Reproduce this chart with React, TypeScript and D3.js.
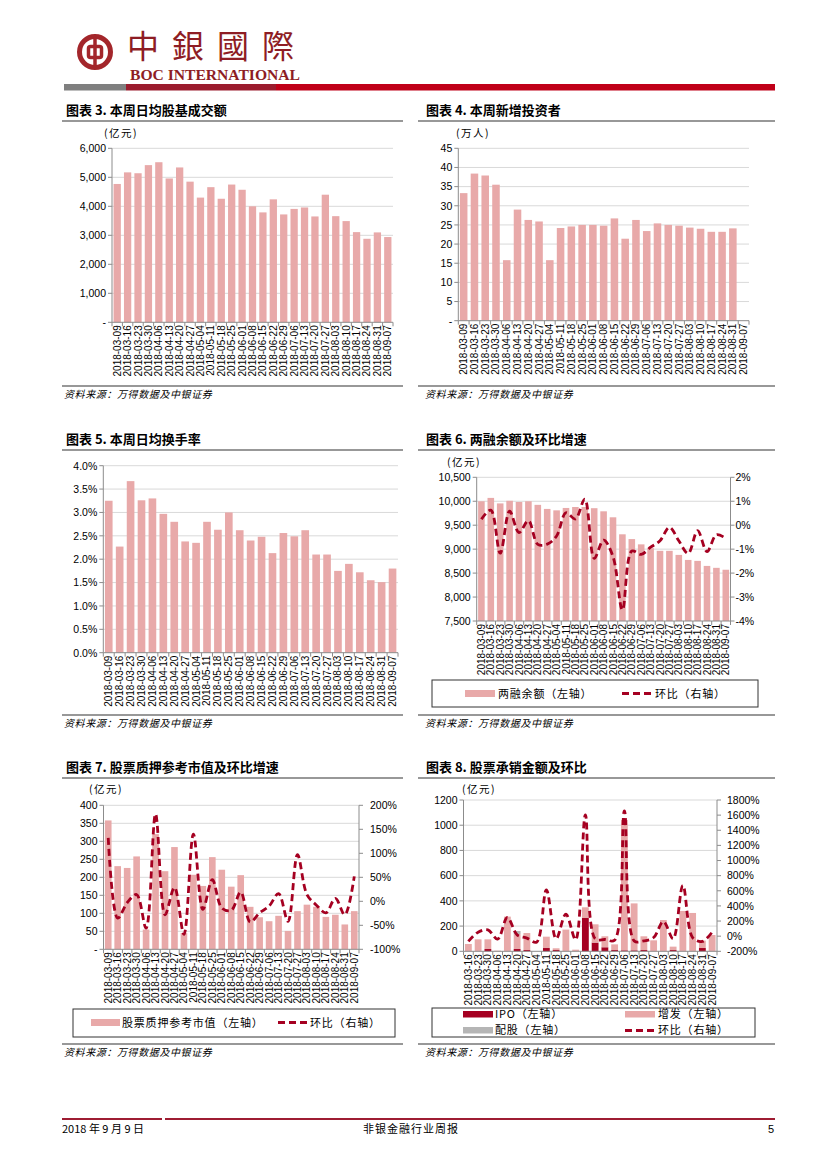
import * as d3 from 'd3';

// weekly dates (chart 3-7), chart 8 starts one week later
const weeks = [
  '2018-03-09', '2018-03-16', '2018-03-23', '2018-03-30', '2018-04-06', '2018-04-13', '2018-04-20',
  '2018-04-27', '2018-05-04', '2018-05-11', '2018-05-18', '2018-05-25', '2018-06-01', '2018-06-08',
  '2018-06-15', '2018-06-22', '2018-06-29', '2018-07-06', '2018-07-13', '2018-07-20', '2018-07-27',
  '2018-08-03', '2018-08-10', '2018-08-17', '2018-08-24', '2018-08-31', '2018-09-07',
];
const weeksFrom316 = weeks.slice(1);

// 图表3 本周日均股基成交额 (亿元)
const dailyTurnover = [4770, 5170, 5140, 5420, 5520, 4960, 5340, 4850, 4300, 4660, 4260, 4750, 4570, 4000,
  3790, 4240, 3720, 3910, 3960, 3650, 4400, 3660, 3490, 3110, 2880, 3100, 2940];

// 图表4 本周新增投资者 (万人)
const newInvestors = [33.3, 38.4, 37.9, 35.5, 15.8, 29.0, 26.3, 25.9, 15.8, 24.2, 24.6, 25.0, 25.0, 24.8,
  26.7, 21.4, 26.3, 23.4, 25.4, 25.0, 24.8, 24.3, 24.0, 23.2, 23.2, 24.1, null];

// 图表5 本周日均换手率 (%)
const turnoverRate = [3.25, 2.27, 3.67, 3.26, 3.30, 2.97, 2.80, 2.38, 2.35, 2.80, 2.63, 3.00, 2.62, 2.40,
  2.48, 2.13, 2.56, 2.49, 2.62, 2.10, 2.10, 1.75, 1.90, 1.72, 1.55, 1.51, 1.80];

// 图表6 两融余额 (亿元) 及环比 (%)
const marginBalance = [10000, 10070, 9955, 10010, 9985, 10000, 9925, 9840, 9810, 9860, 9880, 9880, 9855, 9790,
  9665, 9310, 9210, 9100, 9020, 8965, 8965, 8880, 8775, 8755, 8650, 8610, 8570];
const marginChange = [0.25, 0.63, -1.17, 0.59, -0.31, 0.19, -0.80, -0.79, -0.45, 0.52, 0.26, 1.09, -1.38, -0.62,
  -1.31, -3.54, -1.08, -1.22, -0.92, -0.65, -0.09, -0.65, -1.18, -0.23, -1.10, -0.40, -0.55];

// 图表7 股票质押参考市值 (亿元) 及环比 (%)
const pledgeValue = [358, 231, 226, 258, 55, 320, 217, 284, 45, 207, 176, 256, 221, 174,
  206, 118, 89, 78, 93, 51, 106, 124, 118, 90, 96, 69, 106];
const pledgeChange = [132, -35, -3, 14, -56, 182, -28, 29, -69, 140, -17, 45, -14, -19,
  19, -43, -24, -10, 16, -42, 97, 14, -8, -24, 6, -28, 52];

// 图表8 股票承销金额 (亿元) 及环比 (%)
const ipoAmount = [0, 0, 18, 0, 0, 18, 10, 0, 26, 10, 0, 0, 264, 69, 32, 10, 8, 8, 10, 0, 0, 10, 0, 0, 26, 0];
const placementAmount = [58, 95, 77, 5, 275, 118, 135, 0, 90, 14, 172, 13, 85, 145, 87, 45, 1033, 372, 109, 87,
  248, 27, 320, 304, 59, 129];
const rightsAmount = [0, 0, 0, 0, 0, 25, 0, 0, 0, 0, 0, 0, 0, 0, 0, 0, 0, 0, 0, 0, 0, 0, 0, 0, 0, 0];
const underwritingChange = [-70, 53, 84, -40, 247, 18, -26, -79, 612, -35, 291, -48, 1604, -35, -44, -53, 1656,
  -62, -62, -18, 194, -35, 670, -18, -70, 53];

const PINK = '#e8a9a9';
const RED = '#a50021';
const GRAY = '#b5b5b5';
const AXIS = '#8c8c8c';
const GRID = '#d9d9d9';
const NUM = '"Liberation Sans", Arial, sans-serif';
const CJK = '"Noto Sans CJK SC", sans-serif';

const comma = d3.format(',');

type Series = { values: (number | null)[]; color: string };
type LineSpec = {
  values: number[];
  domain: [number, number];
  ticks: number[];
  fmt: (v: number) => string;
  gap: number;
};
type PanelProps = {
  x0: number; x1: number; yTop: number; yBot: number;
  cats: string[];
  domain: [number, number];
  ticks: number[];
  fmt: (v: number) => string;
  bars: Series[];
  line?: LineSpec;
};

function Panel({ x0, x1, yTop, yBot, cats, domain, ticks, fmt, bars, line }: PanelProps) {
  const x = d3.scaleBand<string>().domain(cats).range([x0, x1]).paddingInner(0.3).paddingOuter(0.15);
  const y = d3.scaleLinear().domain(domain).range([yBot, yTop]);
  const step = x.step();

  // stacked from zero, clipped at the axis minimum
  const stacks = cats.map((c, i) => {
    let acc = 0;
    return bars.map((s) => {
      const v = s.values[i] ?? 0;
      const seg = { c, y0: Math.max(acc, domain[0]), y1: acc + v, color: s.color };
      acc += v;
      return seg;
    });
  });

  let linePath: string | null = null;
  let yR: d3.ScaleLinear<number, number> | null = null;
  if (line) {
    yR = d3.scaleLinear().domain(line.domain).range([yBot, yTop]);
    const yr = yR;
    linePath = d3
      .line<number>()
      .x((_, i) => (x(cats[i]) ?? 0) + x.bandwidth() / 2)
      .y((d) => yr(d))
      .curve(d3.curveCatmullRom.alpha(0.5))(line.values);
  }

  return (
    <g>
      {ticks.filter((t) => t !== domain[0]).map((t) => (
        <line key={'g' + t} x1={x0} x2={x1} y1={y(t)} y2={y(t)} stroke={GRID} strokeWidth={1} />
      ))}
      {stacks.flat().filter((s) => s.y1 > s.y0).map((s, i) => (
        <rect key={'b' + i} x={x(s.c)} width={x.bandwidth()} y={y(s.y1)} height={y(s.y0) - y(s.y1)} fill={s.color} />
      ))}
      {/* left axis */}
      <line x1={x0} x2={x0} y1={yTop} y2={yBot} stroke={AXIS} />
      {ticks.map((t) => (
        <g key={'l' + t}>
          <line x1={x0 - 4} x2={x0} y1={y(t)} y2={y(t)} stroke={AXIS} />
          <text x={x0 - 6} y={y(t) + 3.8} textAnchor="end" fontSize={10.5} fontFamily={NUM} fill="#000">
            {fmt(t)}
          </text>
        </g>
      ))}
      {/* x axis */}
      <line x1={x0} x2={x1} y1={yBot} y2={yBot} stroke={AXIS} />
      {d3.range(cats.length + 1).map((i) => (
        <line key={'t' + i} x1={x0 + i * step} x2={x0 + i * step} y1={yBot} y2={yBot + 4} stroke={AXIS} />
      ))}
      {cats.map((c) => (
        <text
          key={'c' + c}
          transform={`translate(${(x(c) ?? 0) + x.bandwidth() / 2},${yBot + 3}) rotate(-90)`}
          textAnchor="end"
          dominantBaseline="central"
          fontSize={10}
          fontFamily={NUM}
        >
          {c}
        </text>
      ))}
      {line && yR && (
        <g>
          <line x1={x1} x2={x1} y1={yTop} y2={yBot} stroke={AXIS} />
          {line.ticks.map((t) => (
            <g key={'r' + t}>
              <line x1={x1} x2={x1 + 4} y1={yR!(t)} y2={yR!(t)} stroke={AXIS} />
              <text x={x1 + line.gap} y={yR!(t) + 3.8} fontSize={10.5} fontFamily={NUM}>
                {line.fmt(t)}
              </text>
            </g>
          ))}
          <path d={linePath ?? undefined} fill="none" stroke={RED} strokeWidth={2.8} strokeDasharray="7,4" />
        </g>
      )}
    </g>
  );
}

function Title({ x, y, text, r0, r1 }: { x: number; y: number; text: string; r0: number; r1: number }) {
  return (
    <g>
      <text x={x} y={y} fontSize={13} fontWeight={700} fontFamily={CJK}>{text}</text>
      <line x1={r0} x2={r1} y1={y + 6} y2={y + 6} stroke="#333" strokeWidth={1.2} />
    </g>
  );
}

function Source({ x, y, r0, r1 }: { x: number; y: number; r0: number; r1: number }) {
  return (
    <g>
      <line x1={r0} x2={r1} y1={y - 12} y2={y - 12} stroke="#333" strokeWidth={1.2} />
      <text x={x} y={y} fontSize={10} fontStyle="italic" fontFamily={CJK} letterSpacing={0.6}>
        资料来源：万得数据及中银证券
      </text>
    </g>
  );
}

function Unit({ x, y, text }: { x: number; y: number; text: string }) {
  return (
    <text x={x} y={y} fontSize={10.5} fontFamily={CJK} letterSpacing={1.5}>{text}</text>
  );
}

const pct0 = (v: number) => `${v}%`;

export default function App() {
  return (
    <div style={{ position: 'absolute', left: 0, top: 0 }}>
      <svg width={827} height={1169} style={{ display: 'block', background: '#fff' }}>
        {/* header */}
        <circle cx={95} cy={52} r={15.5} fill="none" stroke="#a3262b" strokeWidth={5} />
        <rect x={88.5} y={46.5} width={13} height={11} rx={2} fill="none" stroke="#a3262b" strokeWidth={3.5} />
        <line x1={95} x2={95} y1={37} y2={67} stroke="#a3262b" strokeWidth={3.5} />
        <text x={127} y={58} fontSize={32} fontFamily='"Noto Sans CJK TC", sans-serif' fill="#8e1d24" letterSpacing={13}>
          中銀國際
        </text>
        <text x={130} y={80} fontSize={15} fontWeight={700} fontFamily='"Liberation Serif", serif' fill="#8e1d24"
          textLength={170} lengthAdjust="spacingAndGlyphs">
          BOC INTERNATIONAL
        </text>
        <rect x={64} y={84} width={62} height={6.5} fill="#7f7f7f" />
        <rect x={126} y={84} width={150} height={6.5} fill="#9b1c2e" />
        <rect x={276} y={84} width={499} height={6.5} fill="#c00018" />

        {/* 图表3 */}
        <Title x={66} y={115} text="图表 3. 本周日均股基成交额" r0={62} r1={403} />
        <Unit x={104} y={137} text="(亿元)" />
        <Panel x0={112} x1={393} yTop={148.3} yBot={322.3} cats={weeks} domain={[0, 6000]}
          ticks={d3.range(0, 6001, 1000)} fmt={(v) => (v === 0 ? '-' : comma(v))}
          bars={[{ values: dailyTurnover, color: PINK }]} />
        <Source x={64} y={398} r0={62} r1={403} />

        {/* 图表4 */}
        <Title x={426} y={115} text="图表 4. 本周新增投资者" r0={418} r1={775} />
        <Unit x={456} y={137} text="(万人)" />
        <Panel x0={458.3} x1={749} yTop={148.3} yBot={320.7} cats={weeks} domain={[0, 45]}
          ticks={d3.range(0, 46, 5)} fmt={(v) => (v === 0 ? '-' : String(v))}
          bars={[{ values: newInvestors, color: PINK }]} />
        <Source x={425} y={398} r0={418} r1={775} />

        {/* 图表5 */}
        <Title x={66} y={444} text="图表 5. 本周日均换手率" r0={62} r1={403} />
        <Panel x0={103.3} x1={398} yTop={465.7} yBot={652.7} cats={weeks} domain={[0, 4]}
          ticks={d3.range(0, 4.01, 0.5)} fmt={(v) => `${v.toFixed(1)}%`}
          bars={[{ values: turnoverRate, color: PINK }]} />
        <Source x={64} y={727} r0={62} r1={403} />

        {/* 图表6 */}
        <Title x={426} y={444} text="图表 6. 两融余额及环比增速" r0={418} r1={775} />
        <Unit x={447} y={466} text="(亿元)" />
        <Panel x0={476.7} x1={730.5} yTop={477.3} yBot={621} cats={weeks} domain={[7500, 10500]}
          ticks={d3.range(7500, 10501, 500)} fmt={comma}
          bars={[{ values: marginBalance, color: PINK }]}
          line={{ values: marginChange, domain: [-4, 2], ticks: d3.range(-4, 3, 1), fmt: pct0, gap: 5 }} />
        <rect x={432} y={680} width={326} height={27} fill="none" stroke="#333" />
        <rect x={465} y={690} width={30} height={7} fill={PINK} />
        <text x={498} y={697.5} fontSize={11} fontFamily={CJK} letterSpacing={0.8}>两融余额（左轴）</text>
        <line x1={622} x2={652} y1={693.5} y2={693.5} stroke={RED} strokeWidth={2.8} strokeDasharray="7,4" />
        <text x={655} y={697.5} fontSize={11} fontFamily={CJK} letterSpacing={0.8}>环比（右轴）</text>
        <Source x={425} y={727} r0={418} r1={775} />

        {/* 图表7 */}
        <Title x={66} y={772} text="图表 7. 股票质押参考市值及环比增速" r0={62} r1={403} />
        <Unit x={89} y={793} text="(亿元)" />
        <Panel x0={103.5} x1={359} yTop={805.3} yBot={949.3} cats={weeks} domain={[0, 400]}
          ticks={d3.range(0, 401, 50)} fmt={(v) => (v === 0 ? '-' : String(v))}
          bars={[{ values: pledgeValue, color: PINK }]}
          line={{ values: pledgeChange, domain: [-100, 200], ticks: d3.range(-100, 201, 50), fmt: pct0, gap: 11 }} />
        <rect x={73} y={1009} width={322} height={28} fill="none" stroke="#333" />
        <rect x={91} y={1019} width={29} height={7} fill={PINK} />
        <text x={122} y={1026.5} fontSize={11} fontFamily={CJK} letterSpacing={0.8}>股票质押参考市值（左轴）</text>
        <line x1={278} x2={307} y1={1022.5} y2={1022.5} stroke={RED} strokeWidth={2.8} strokeDasharray="7,4" />
        <text x={310} y={1026.5} fontSize={11} fontFamily={CJK} letterSpacing={0.8}>环比（右轴）</text>
        <Source x={64} y={1056} r0={62} r1={403} />

        {/* 图表8 */}
        <Title x={426} y={772} text="图表 8. 股票承销金额及环比" r0={418} r1={775} />
        <Unit x={462} y={793} text="(亿元)" />
        <Panel x0={463.5} x1={717} yTop={800} yBot={951.3} cats={weeksFrom316} domain={[0, 1200]}
          ticks={d3.range(0, 1201, 200)} fmt={String}
          bars={[
            { values: ipoAmount, color: RED },
            { values: placementAmount, color: PINK },
            { values: rightsAmount, color: GRAY },
          ]}
          line={{ values: underwritingChange, domain: [-200, 1800], ticks: d3.range(-200, 1801, 200), fmt: pct0, gap: 10 }} />
        <rect x={432} y={1008} width={323} height={29} fill="none" stroke="#333" />
        <rect x={463} y={1011} width={30} height={6.5} fill={RED} />
        <text x={495} y={1018} fontSize={11} fontFamily={CJK} letterSpacing={0.8}>IPO（左轴）</text>
        <rect x={625} y={1011} width={30} height={6.5} fill={PINK} />
        <text x={658} y={1018} fontSize={11} fontFamily={CJK} letterSpacing={0.8}>增发（左轴）</text>
        <rect x={463} y={1027} width={30} height={6.5} fill={GRAY} />
        <text x={495} y={1034} fontSize={11} fontFamily={CJK} letterSpacing={0.8}>配股（左轴）</text>
        <line x1={625} x2={655} y1={1030.5} y2={1030.5} stroke={RED} strokeWidth={2.8} strokeDasharray="7,4" />
        <text x={658} y={1034} fontSize={11} fontFamily={CJK} letterSpacing={0.8}>环比（右轴）</text>
        <Source x={425} y={1056} r0={418} r1={775} />

        {/* footer */}
        <rect x={62} y={1118} width={100} height={2} fill="#9e1c32" />
        <rect x={165} y={1118} width={610} height={2} fill="#9e1c32" />
        <text x={62} y={1133} fontSize={11} fontFamily={CJK}>2018 年 9 月 9 日</text>
        <text x={411} y={1133} fontSize={11} fontFamily={CJK} textAnchor="middle" letterSpacing={1}>非银金融行业周报</text>
        <text x={774} y={1133} fontSize={11} fontFamily={NUM} textAnchor="end">5</text>
      </svg>
    </div>
  );
}
